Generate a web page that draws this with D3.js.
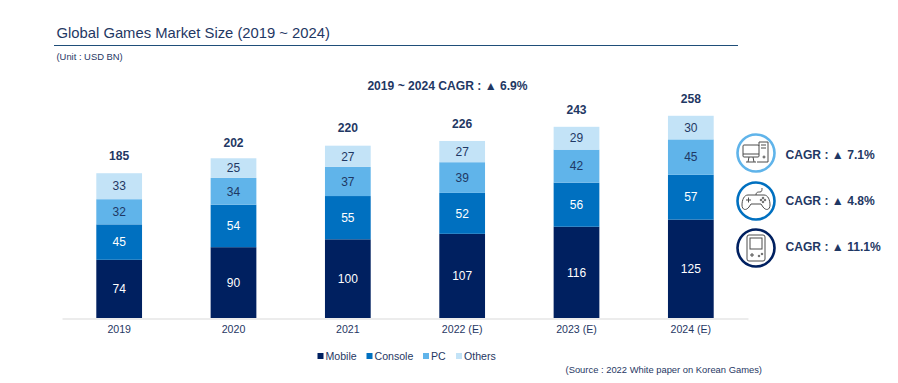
<!DOCTYPE html>
<html>
<head>
<meta charset="utf-8">
<script src="https://cdn.jsdelivr.net/npm/d3@7"></script>
<style>
  html, body { margin: 0; padding: 0; background: #fff; }
  text { font-family: "Liberation Sans", Arial, sans-serif; }
  .icon * { fill: none; stroke: #4d4d4d; stroke-width: 1; }
</style>
</head>
<body>
<div id="chart"></div>
<script>
// chart data
const years = ["2019", "2020", "2021", "2022 (E)", "2023 (E)", "2024 (E)"];
const mobile = [74, 90, 100, 107, 116, 125];
const consoleGames = [45, 54, 55, 52, 56, 57];
const pc = [32, 34, 37, 39, 42, 45];
const others = [33, 25, 27, 27, 29, 30];
const totals = [185, 202, 220, 226, 243, 258];
const seriesNames = ["Mobile", "Console", "PC", "Others"];
const cagrLabels = ["CAGR : ▲ 7.1%", "CAGR : ▲ 4.8%", "CAGR : ▲ 11.1%"];

const colors = ["#002060", "#0070C0", "#60B4EA", "#C3E3F7"];
const labelColors = ["#ffffff", "#ffffff", "#1f3864", "#1f3864"];
const navy = "#1f3864";

const svg = d3.select("#chart").append("svg")
	.attr("width", 898)
	.attr("height", 383)
	.style("display", "block");

// Header
svg.append("text").attr("x", 56.5).attr("y", 37.5)
	.attr("font-size", 14.8).attr("fill", navy)
	.text("Global Games Market Size (2019 ~ 2024)");
svg.append("line").attr("x1", 54).attr("x2", 738).attr("y1", 45.5).attr("y2", 45.5)
	.attr("stroke", "#1f4e79").attr("stroke-width", 1.2);
svg.append("text").attr("x", 56.5).attr("y", 60)
	.attr("font-size", 9.4).attr("fill", navy)
	.text("(Unit : USD BN)");
svg.append("text").attr("x", 447.5).attr("y", 90).attr("text-anchor", "middle")
	.attr("font-size", 12.1).attr("font-weight", "bold").attr("fill", navy)
	.text("2019 ~ 2024 CAGR : ▲ 6.9%");

// Scales and axes
const x = d3.scaleBand().domain(years).range([62, 748]).paddingInner(0.6).paddingOuter(0.3);
const y = d3.scaleLinear().domain([0, 258]).range([318, 115]);

const xAxis = svg.append("g")
	.attr("transform", "translate(0,318.5)")
	.call(d3.axisBottom(x).tickSize(0).tickPadding(7));
xAxis.select(".domain").attr("stroke", "#d9d9d9");
xAxis.selectAll("text")
	.attr("font-size", 10.6)
	.attr("font-family", '"Liberation Sans", Arial, sans-serif')
	.attr("fill", navy);

// Stack the series
const rows = years.map((year, i) => ({
	year: year,
	Mobile: mobile[i],
	Console: consoleGames[i],
	PC: pc[i],
	Others: others[i]
}));
const stacked = d3.stack().keys(seriesNames)(rows);

const layers = svg.selectAll(".layer").data(stacked).enter().append("g")
	.attr("class", "layer");

layers.selectAll("rect").data(d => d).enter().append("rect")
	.attr("x", d => x(d.data.year))
	.attr("width", x.bandwidth())
	.attr("y", d => y(d[1]))
	.attr("height", d => y(d[0]) - y(d[1]))
	.attr("fill", (d, i, nodes) => colors[stacked.indexOf(d3.select(nodes[i].parentNode).datum())]);

stacked.forEach(function(layer, s) {
	svg.selectAll(".val" + s).data(layer).enter().append("text")
		.attr("class", "val" + s)
		.attr("x", d => x(d.data.year) + x.bandwidth() / 2)
		.attr("y", d => (y(d[0]) + y(d[1])) / 2 + 4.2)
		.attr("text-anchor", "middle")
		.attr("font-size", 12)
		.attr("fill", labelColors[s])
		.text(d => d[1] - d[0]);
});

// Totals above each bar
svg.selectAll(".total").data(totals).enter().append("text")
	.attr("class", "total")
	.attr("x", (d, i) => x(years[i]) + x.bandwidth() / 2)
	.attr("y", d => y(d) - 12.5)
	.attr("text-anchor", "middle")
	.attr("font-size", 12.1)
	.attr("font-weight", "bold")
	.attr("fill", navy)
	.text(d => d);

// Legend
const legendX = [317.5, 366.5, 423, 456];
const legend = svg.selectAll(".legend").data(seriesNames).enter().append("g")
	.attr("class", "legend")
	.attr("transform", (d, i) => "translate(" + legendX[i] + ",351)");
legend.append("rect").attr("y", 2).attr("width", 6).attr("height", 6)
	.attr("fill", (d, i) => colors[i]);
legend.append("text").attr("x", 8).attr("y", 8.8)
	.attr("font-size", 10.6).attr("fill", navy)
	.text(d => d);

svg.append("text").attr("x", 762).attr("y", 373).attr("text-anchor", "end")
	.attr("font-size", 9.4).attr("fill", navy)
	.text("(Source : 2022 White paper on Korean Games)");

// CAGR badges
const badgeY = [153, 201, 248];
const labelY = [159, 205, 251];
const ringColors = [colors[2], colors[1], colors[0]];

svg.selectAll(".ring").data(badgeY).enter().append("circle")
	.attr("class", "ring")
	.attr("cx", 756).attr("cy", d => d).attr("r", 18.5)
	.attr("fill", "#fff")
	.attr("stroke", (d, i) => ringColors[i])
	.attr("stroke-width", 2.6);

svg.selectAll(".cagr").data(cagrLabels).enter().append("text")
	.attr("class", "cagr")
	.attr("x", 785.5)
	.attr("y", (d, i) => labelY[i])
	.attr("font-size", 12.1)
	.attr("font-weight", "bold")
	.attr("fill", navy)
	.text(d => d);

// Computer icon
const pcIcon = svg.append("g").attr("class", "icon").attr("transform", "translate(756,153)");
pcIcon.append("rect").attr("x", -13).attr("y", -8).attr("width", 16).attr("height", 12).attr("rx", 1);
pcIcon.append("path").attr("d", "M-13,1H3M-7,4L-8,9M-3,4L-2,9M-10,9H0");
pcIcon.append("path").attr("d", "M3,-7V-11H12V9H1");
pcIcon.append("path").attr("d", "M5,-8H10M5,-5H10");
pcIcon.append("circle").attr("cx", 8).attr("cy", 4).attr("r", 1);

// Gamepad icon
const padIcon = svg.append("g").attr("class", "icon").attr("transform", "translate(756,201)");
padIcon.append("path").attr("d", "M-8,-6H8C12,-6 14,-1 14,4C14,9 10,10 7,6L5,3H-5L-7,6C-10,10 -14,9 -14,4C-14,-1 -12,-6 -8,-6Z");
padIcon.append("path").attr("d", "M0,-6C0,-9 2,-9 4,-9C6,-9 6,-11 6,-13");
padIcon.append("path").attr("d", "M-10,-1H-5M-7.5,-3.5V1.5");
padIcon.append("circle").attr("cx", 5).attr("cy", -1).attr("r", 0.8);
padIcon.append("circle").attr("cx", 9).attr("cy", -1).attr("r", 0.8);
padIcon.append("circle").attr("cx", 7).attr("cy", -3).attr("r", 0.8);
padIcon.append("circle").attr("cx", 7).attr("cy", 1).attr("r", 0.8);

// Handheld icon
const handIcon = svg.append("g").attr("class", "icon").attr("transform", "translate(756,248)");
handIcon.append("rect").attr("x", -9).attr("y", -13).attr("width", 18).attr("height", 26).attr("rx", 2);
handIcon.append("rect").attr("x", -6).attr("y", -10).attr("width", 12).attr("height", 11);
handIcon.append("path").attr("d", "M-6,7H-2M-4,5V9");
handIcon.append("circle").attr("cx", 3).attr("cy", 8).attr("r", 0.8);
handIcon.append("circle").attr("cx", 6).attr("cy", 6).attr("r", 0.8);
</script>
</body>
</html>
